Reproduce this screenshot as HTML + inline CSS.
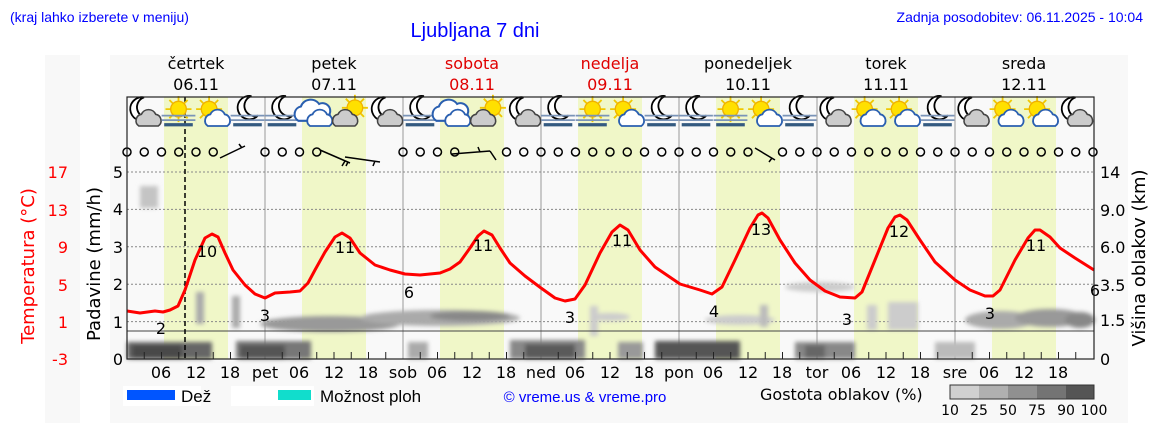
<!DOCTYPE html>
<html><head><meta charset="utf-8"><style>
html,body{margin:0;padding:0;background:#fff;width:1152px;height:443px;overflow:hidden}
svg{display:block}
.t{font-family:"DejaVu Sans",sans-serif;font-size:16px;fill:#000}
.h{font-family:"Liberation Sans",sans-serif;fill:#0000ff}
</style></head><body>
<svg id="s" width="1152" height="443" xmlns="http://www.w3.org/2000/svg">
<defs>
<filter id="b" x="-20%" y="-50%" width="140%" height="200%"><feGaussianBlur stdDeviation="2"/></filter>
<g id="moon"><path d="M3,-9 A9,9 0 1,0 8,6 A7,7 0 1,1 3,-9 Z" fill="#fff" stroke="#000" stroke-width="1.4"/></g>
<g id="sun"><g stroke="#f0c800" stroke-width="1.4"><line x1="-10" y1="0" x2="10" y2="0"/><line x1="0" y1="-10" x2="0" y2="10"/><line x1="-7" y1="-7" x2="7" y2="7"/><line x1="-7" y1="7" x2="7" y2="-7"/></g><circle r="6" fill="#ffe000" stroke="#f0b000"/></g>
<g id="fog"><g stroke="#7a94b8" stroke-width="1.4"><line x1="-13" y1="0" x2="13" y2="0"/><line x1="-13" y1="3.5" x2="13" y2="3.5"/></g><line x1="-11" y1="7" x2="11" y2="7" stroke="#345a80" stroke-width="2.5"/></g>
<g id="wc"><path d="M-9,5 a5,5 0 0,1 2,-9 a6,6 0 0,1 11,0 a5,5 0 0,1 2,9 Z" fill="#fff" stroke="#2a5fb0" stroke-width="1.4"/></g>
<g id="gc"><path d="M-9,5 a5,5 0 0,1 2,-9 a6,6 0 0,1 11,0 a5,5 0 0,1 2,9 Z" fill="#ccc" stroke="#444" stroke-width="1.2"/></g>
<g id="bc"><path d="M-12,6 a6,6 0 0,1 2,-11 a8,8 0 0,1 14,-2 a6,6 0 0,1 8,8 a5,5 0 0,1 0,5 Z" fill="#fff" stroke="#2a5fb0" stroke-width="1.6"/></g>
<g id="i_mc"><use href="#moon" x="-3" y="-3"/><use href="#gc" x="5" y="5"/></g>
<g id="i_mf"><use href="#moon" x="0" y="-4"/><use href="#fog" y="2"/></g>
<g id="i_sf"><use href="#sun" y="-3"/><use href="#fog" y="2"/></g>
<g id="i_sc"><use href="#sun" x="-3" y="-3"/><use href="#wc" x="5" y="5"/></g>
<g id="i_sg"><use href="#sun" x="3" y="-4"/><use href="#gc" x="-3" y="5"/></g>
<g id="i_cl"><use href="#bc" x="-2" y="0"/><use href="#wc" x="4" y="5"/></g>
</defs>
<rect x="45" y="55" width="35" height="368" fill="#f8f8f8"/>
<rect x="110" y="55" width="1018" height="368" fill="#f8f8f8"/>
<text class="h" x="10" y="22" font-size="14">(kraj lahko izberete v meniju)</text>
<text class="h" x="475" y="37" font-size="20" text-anchor="middle">Ljubljana 7 dni</text>
<text class="h" x="1143" y="22" font-size="14" text-anchor="end">Zadnja posodobitev: 06.11.2025 - 10:04</text>
<g class="t" text-anchor="middle">
<text x="196" y="69">četrtek</text><text x="196" y="90">06.11</text>
<text x="334" y="69">petek</text><text x="334" y="90">07.11</text>
<text x="472" y="69" style="fill:#e00000">sobota</text><text x="472" y="90" style="fill:#e00000">08.11</text>
<text x="610" y="69" style="fill:#e00000">nedelja</text><text x="610" y="90" style="fill:#e00000">09.11</text>
<text x="748" y="69">ponedeljek</text><text x="748" y="90">10.11</text>
<text x="886" y="69">torek</text><text x="886" y="90">11.11</text>
<text x="1024" y="69">sreda</text><text x="1024" y="90">12.11</text>
</g>
<rect x="127" y="97" width="967" height="262" fill="#f9f9f9"/>
<g fill="#f0f7c8">
<rect x="164" y="97" width="64" height="262"/><rect x="302" y="97" width="64" height="262"/>
<rect x="440" y="97" width="64" height="262"/><rect x="578" y="97" width="64" height="262"/>
<rect x="716" y="97" width="64" height="262"/><rect x="854" y="97" width="64" height="262"/>
<rect x="992" y="97" width="64" height="262"/>
</g>
<g stroke="#999" stroke-width="1">
<line x1="265" y1="97" x2="265" y2="359"/><line x1="403" y1="97" x2="403" y2="359"/><line x1="541" y1="97" x2="541" y2="359"/><line x1="679" y1="97" x2="679" y2="359"/><line x1="817" y1="97" x2="817" y2="359"/><line x1="955" y1="97" x2="955" y2="359"/>
</g>
<g stroke="#888" stroke-dasharray="2,2" stroke-width="1">
<line x1="127" y1="321.6" x2="1094" y2="321.6"/><line x1="127" y1="284.2" x2="1094" y2="284.2"/><line x1="127" y1="246.8" x2="1094" y2="246.8"/><line x1="127" y1="209.4" x2="1094" y2="209.4"/><line x1="127" y1="172" x2="1094" y2="172"/>
</g>
<g filter="url(#b)">
<rect x="127" y="342" width="85" height="17" fill="#666"/><rect x="132" y="345" width="50" height="14" fill="#4a4a4a"/>
<rect x="236" y="341" width="75" height="18" fill="#777"/><rect x="240" y="345" width="45" height="14" fill="#555"/>
<rect x="196" y="292" width="8" height="32" fill="#aaa"/><rect x="232" y="296" width="8" height="32" fill="#aaa"/>
<rect x="140" y="186" width="18" height="22" fill="#c4c4c4"/>
<ellipse cx="330" cy="324" rx="70" ry="8" fill="#999"/><ellipse cx="440" cy="318" rx="80" ry="8" fill="#aaa"/>
<ellipse cx="470" cy="316" rx="40" ry="5" fill="#888"/>
<rect x="408" y="342" width="20" height="17" fill="#aaa"/>
<rect x="510" y="340" width="75" height="19" fill="#888"/><rect x="525" y="344" width="50" height="15" fill="#5a5a5a"/>
<rect x="590" y="306" width="8" height="30" fill="#ccc"/><ellipse cx="610" cy="317" rx="20" ry="4" fill="#ccc"/>
<rect x="618" y="342" width="25" height="17" fill="#999"/>
<rect x="655" y="341" width="85" height="18" fill="#555"/>
<ellipse cx="740" cy="320" rx="35" ry="5" fill="#ccc"/><rect x="760" y="305" width="8" height="22" fill="#bbb"/>
<ellipse cx="820" cy="287" rx="35" ry="5" fill="#ccc"/>
<rect x="795" y="342" width="60" height="17" fill="#888"/><rect x="805" y="345" width="20" height="14" fill="#666"/>
<rect x="867" y="305" width="10" height="25" fill="#ccc"/><rect x="888" y="302" width="30" height="28" fill="#ccc"/>
<rect x="935" y="342" width="40" height="17" fill="#bbb"/>
<ellipse cx="1000" cy="320" rx="35" ry="9" fill="#aaa"/><ellipse cx="1050" cy="318" rx="35" ry="9" fill="#999"/>
<ellipse cx="1080" cy="320" rx="15" ry="8" fill="#888"/>
</g>
<line x1="127" y1="331" x2="1094" y2="331" stroke="#444" stroke-width="1"/>
<line x1="185" y1="97" x2="185" y2="359" stroke="#000" stroke-dasharray="5,3" stroke-width="1.5"/>
<g id="icons"></g>
<g id="wind" fill="none" stroke="#000" stroke-width="1.5"></g>
<g stroke="#000" stroke-width="1.5" fill="none">
<path d="M220,158 L245,146 M242,148 l-3,-4"/>
<path d="M320,150 L350,163 M345,161 l-3,5 M348,162 l-2,4"/>
<path d="M345,157 L380,162 M375,161 l-2,5"/>
<path d="M452,154 L490,151 M480,152 l-2,-5 M490,151 l6,9"/>
<path d="M755,148 L775,160 M772,158 l-3,4"/>
</g>
<polyline fill="none" stroke="#ff0000" stroke-width="3" stroke-linejoin="round" points="127,311 140,313 155,311 163,312 170,310 178,306 185,290 195,260 205,238 212,234 218,237 225,253 233,270 245,285 255,294 265,298 275,293 290,292 300,291 308,283 315,270 325,252 335,237 342,233 350,238 360,253 375,265 390,270 405,274 420,275 440,273 450,269 460,262 470,248 478,236 484,231 492,235 500,248 510,263 525,276 541,288 555,298 565,301 575,299 585,285 600,253 612,232 620,225 628,230 640,250 655,267 680,284 700,290 712,294 722,287 735,260 750,228 758,215 762,213 768,218 780,240 795,263 810,280 825,291 840,297 855,298 862,292 875,260 888,228 895,217 900,215 907,220 920,240 935,262 955,280 970,290 985,296 993,296 1000,290 1015,260 1028,238 1035,230 1040,230 1050,237 1060,248 1075,258 1094,270"/>
<g class="t" text-anchor="middle">
<text x="161" y="334">2</text><text x="207" y="257">10</text><text x="265" y="321">3</text><text x="345" y="253">11</text><text x="409" y="298">6</text><text x="483" y="251">11</text><text x="570" y="323">3</text><text x="622" y="246">11</text><text x="714" y="317">4</text><text x="761" y="235">13</text><text x="847" y="325">3</text><text x="899" y="237">12</text><text x="990" y="319">3</text><text x="1036" y="251">11</text><text x="1095" y="296">6</text>
</g>
<rect x="127" y="97" width="967" height="262" fill="none" stroke="#222" stroke-width="1.2"/>
<g id="ticks" stroke="#222" stroke-width="1"></g>
<g class="t" text-anchor="end">
<text x="123" y="178">5</text><text x="123" y="215">4</text><text x="123" y="253">3</text><text x="123" y="290">2</text><text x="123" y="328">1</text><text x="123" y="365">0</text>
</g>
<g class="t" text-anchor="end">
<text x="68" y="178" style="fill:#f00">17</text><text x="68" y="216" style="fill:#f00">13</text><text x="68" y="253" style="fill:#f00">9</text><text x="68" y="291" style="fill:#f00">5</text><text x="68" y="328" style="fill:#f00">1</text><text x="68" y="365" style="fill:#f00">-3</text>
</g>
<g class="t">
<text x="1100" y="178">14</text><text x="1100" y="216">9.0</text><text x="1100" y="253">6.0</text><text x="1100" y="291">3.5</text><text x="1100" y="326">1.5</text><text x="1100" y="365">0</text>
</g>
<text class="t" transform="translate(34,266) rotate(-90)" text-anchor="middle" style="fill:#f00;font-size:18px">Temperatura (°C)</text>
<text class="t" transform="translate(100,264) rotate(-90)" text-anchor="middle" style="font-size:18px">Padavine (mm/h)</text>
<text class="t" transform="translate(1145,258) rotate(-90)" text-anchor="middle" style="font-size:18px">Višina oblakov (km)</text>
<g class="t" text-anchor="middle">
<text x="161" y="378">06</text><text x="196" y="378">12</text><text x="230" y="378">18</text><text x="265" y="378">pet</text>
<text x="299" y="378">06</text><text x="334" y="378">12</text><text x="368" y="378">18</text><text x="403" y="378">sob</text>
<text x="437" y="378">06</text><text x="472" y="378">12</text><text x="506" y="378">18</text><text x="541" y="378">ned</text>
<text x="575" y="378">06</text><text x="610" y="378">12</text><text x="644" y="378">18</text><text x="679" y="378">pon</text>
<text x="713" y="378">06</text><text x="748" y="378">12</text><text x="782" y="378">18</text><text x="817" y="378">tor</text>
<text x="851" y="378">06</text><text x="886" y="378">12</text><text x="920" y="378">18</text><text x="955" y="378">sre</text>
<text x="989" y="378">06</text><text x="1024" y="378">12</text><text x="1058" y="378">18</text>
</g>
<rect x="123" y="386" width="78" height="20" fill="#fff"/><rect x="231" y="386" width="83" height="20" fill="#fff"/>
<rect x="127" y="390" width="48" height="10" fill="#0055ff"/>
<text class="t" x="181" y="402" style="font-family:'Liberation Sans',sans-serif;font-size:17px">Dež</text>
<rect x="278" y="390" width="33" height="10" fill="#11ddcc"/>
<text class="t" x="320" y="402" style="font-family:'Liberation Sans',sans-serif;font-size:17px">Možnost ploh</text>
<text class="h" x="585" y="402" font-size="15" text-anchor="middle">© vreme.us &amp; vreme.pro</text>
<text class="t" x="760" y="400">Gostota oblakov (%)</text>
<rect x="950" y="385" width="29" height="14" fill="#d0d0d0"/><rect x="979" y="385" width="29" height="14" fill="#b0b0b0"/><rect x="1008" y="385" width="29" height="14" fill="#909090"/><rect x="1037" y="385" width="29" height="14" fill="#747474"/><rect x="1066" y="385" width="28" height="14" fill="#555"/>
<rect x="950" y="385" width="144" height="14" fill="none" stroke="#333"/>
<g class="t" text-anchor="middle" style="font-size:14px">
<text x="950" y="415">10</text><text x="979" y="415">25</text><text x="1008" y="415">50</text><text x="1037" y="415">75</text><text x="1066" y="415">90</text><text x="1094" y="415">100</text>
</g>
</svg>
<script>
var NS="http://www.w3.org/2000/svg";
var types=["i_mc","i_sf","i_sc","i_mf","i_mf","i_cl","i_sg","i_mc","i_mf","i_cl","i_sg","i_mc","i_mf","i_sf","i_sc","i_mf","i_mf","i_sf","i_sc","i_mf","i_mc","i_sc","i_sc","i_mf","i_mc","i_sc","i_sc","i_mc"];
var ic=document.getElementById("icons");
types.forEach(function(t,i){var u=document.createElementNS(NS,"use");u.setAttribute("href","#"+t);u.setAttribute("transform","translate("+(144+34.5*i)+",113) scale(1.3)");ic.appendChild(u);});
var w=document.getElementById("wind"),tk=document.getElementById("ticks");
var skip={6:1,7:1,12:1,13:1,14:1,15:1,20:1,21:1,37:1};
for(var i=0;i<=56;i++){var x=127+17.25*i;
 if(!skip[i]){var c=document.createElementNS(NS,"circle");c.setAttribute("cx",x);c.setAttribute("cy",152);c.setAttribute("r",4);w.appendChild(c);}
 if(i>0&&i<56&&i%8!=0){var l=document.createElementNS(NS,"line");l.setAttribute("x1",x);l.setAttribute("x2",x);l.setAttribute("y1",359);l.setAttribute("y2",352);tk.appendChild(l);}}
</script>
</body></html>
